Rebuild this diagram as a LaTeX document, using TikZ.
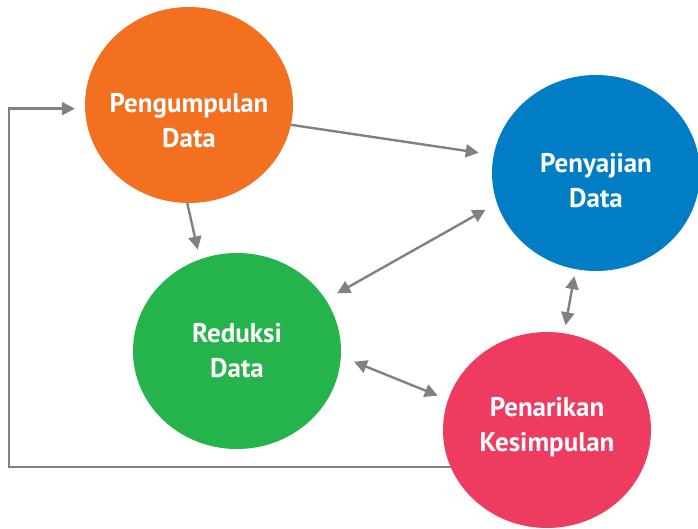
\documentclass[tikz,border=0pt]{standalone}
\usepackage{fontspec}
\setmainfont{PT Sans}
\usetikzlibrary{arrows.meta, shapes.geometric, calc}
\definecolor{gatherorange}{HTML}{F37021}
\definecolor{presentblue}{HTML}{007DC5}
\definecolor{reducegreen}{HTML}{25B34B}
\definecolor{concludepink}{HTML}{EE3B60}
\definecolor{arrowgray}{HTML}{808184}
\begin{document}
\begin{tikzpicture}[x=1pt, y=-1pt,
    stage/.style={ellipse, minimum width=208pt, minimum height=196pt, inner sep=0pt},
    caption/.style={text=white, font=\bfseries\fontsize{27}{35}\selectfont, align=center},
    conn/.style={draw=arrowgray, line width=2.4pt, -{Triangle[length=13pt,width=13pt]}},
    both/.style={conn, {Triangle[length=13pt,width=13pt]}-{Triangle[length=13pt,width=13pt]}}]
    \useasboundingbox (0,0) rectangle (698,528);

    % Pengumpulan Data
    \node[stage, fill=gatherorange] (gather) at (189,105) {};
    \node[caption] (gatherText) at ([yshift=-16pt]gather.center) {Pengumpulan\\Data};

    % Penyajian Data
    \node[stage, fill=presentblue] (present) at (596,173) {};
    \node[caption] (presentText) at ([yshift=-8pt]present.center) {Penyajian\\Data};

    % Reduksi Data
    \node[stage, fill=reducegreen] (reduce) at (237,351) {};
    \node[caption] (reduceText) at (reduce.center) {Reduksi\\Data};

    % Penarikan Kesimpulan
    \node[stage, fill=concludepink] (conclude) at (547,430) {};
    \node[caption] (concludeText) at ([yshift=3pt]conclude.center) {Penarikan\\Kesimpulan};

    % connectors
    \draw[conn, shorten >=15pt] (gather.-11) -- (present.170);
    \draw[conn, shorten >=10pt] (gather.269) -- (reduce.112);
    \draw[both, shorten <=13pt, shorten >=13pt] (present.197) -- (reduce.30);
    \draw[both, shorten <=7pt, shorten >=8pt] (present.258) -- (conclude.80);
    \draw[both, shorten <=14pt, shorten >=11pt] (reduce.-3) -- (conclude.163);

    % feedback loop
    \coordinate (rail) at (9,0);
    \draw[conn, shorten >=10pt] (conclude.201) -- (conclude.201 -| rail) |- (gather.182);
\end{tikzpicture}
\end{document}
